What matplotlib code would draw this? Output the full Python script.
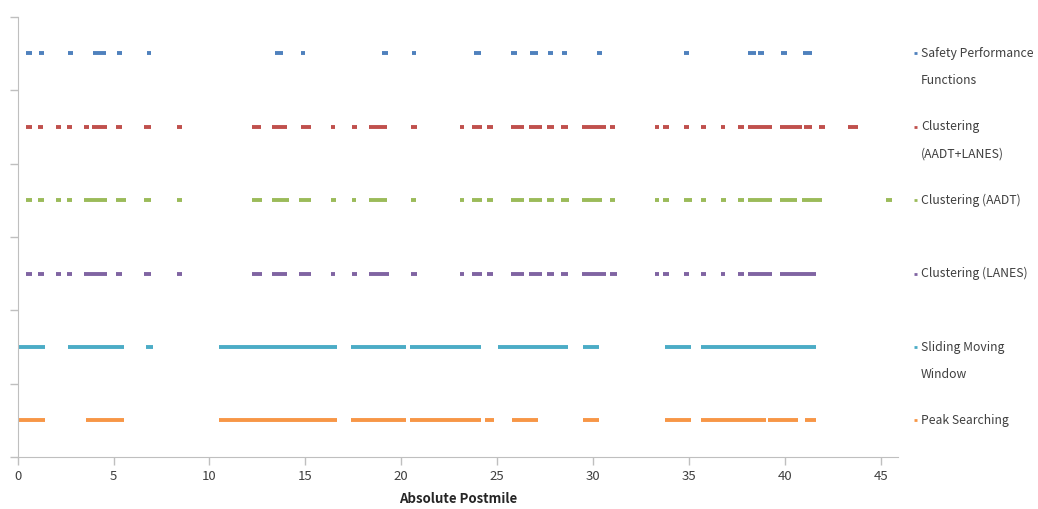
import matplotlib.pyplot as plt
from matplotlib.transforms import blended_transform_factory

plt.rcParams['font.family'] = ['Noto Sans CJK KR', 'DejaVu Sans']

# segments (start, end) in absolute postmile, top row first
spf = [(0.42, 0.73), (1.10, 1.36), (2.61, 2.87), (3.91, 4.59), (5.17, 5.43),
       (6.73, 6.94), (13.41, 13.83), (14.77, 14.98), (19.0, 19.3), (20.56, 20.77),
       (23.8, 24.17), (25.73, 26.04), (26.72, 27.14), (27.66, 27.92), (28.39, 28.65),
       (30.22, 30.48), (34.76, 35.02), (38.1, 38.5), (38.6, 38.9), (39.8, 40.1),
       (40.97, 41.4)]
clus_al = [(0.42, 0.73), (1.04, 1.3), (1.98, 2.24), (2.56, 2.82), (3.44, 3.7),
           (3.86, 4.65), (5.11, 5.43), (6.58, 6.94), (8.3, 8.56), (12.21, 12.68),
           (13.26, 14.04), (14.77, 15.29), (16.34, 16.54), (17.43, 17.69), (18.32, 19.26),
           (20.51, 20.82), (23.07, 23.28), (23.7, 24.22), (24.48, 24.79), (25.73, 26.41),
           (26.67, 27.35), (27.61, 27.97), (28.34, 28.71), (29.44, 30.69), (30.9, 31.16),
           (33.25, 33.46), (33.66, 33.98), (34.76, 35.02), (35.65, 35.91), (36.69, 36.9),
           (37.58, 37.89), (38.1, 39.35), (39.77, 40.92), (41.02, 41.44), (41.8, 42.1),
           (43.3, 43.8)]
clus_a = [(0.42, 0.73), (1.04, 1.36), (1.98, 2.24), (2.56, 2.82), (3.44, 4.65),
          (5.11, 5.64), (6.58, 6.94), (8.3, 8.56), (12.21, 12.73), (13.26, 14.14),
          (14.67, 15.29), (16.34, 16.6), (17.43, 17.64), (18.32, 19.26), (20.51, 20.77),
          (23.07, 23.28), (23.7, 24.22), (24.48, 24.79), (25.73, 26.41), (26.67, 27.35),
          (27.61, 27.97), (28.34, 28.76), (29.44, 30.48), (30.9, 31.16), (33.25, 33.46),
          (33.66, 33.98), (34.76, 35.18), (35.65, 35.91), (36.69, 36.95), (37.58, 37.89),
          (38.1, 39.35), (39.77, 40.66), (40.92, 41.96), (45.3, 45.6)]
clus_l = [(0.42, 0.73), (1.04, 1.36), (1.98, 2.24), (2.56, 2.82), (3.44, 4.65),
          (5.11, 5.43), (6.58, 6.94), (8.3, 8.56), (12.21, 12.73), (13.26, 14.04),
          (14.67, 15.29), (16.34, 16.54), (17.43, 17.69), (18.32, 19.36), (20.51, 20.82),
          (23.07, 23.28), (23.7, 24.22), (24.48, 24.79), (25.73, 26.41), (26.67, 27.35),
          (27.61, 27.97), (28.34, 28.71), (29.44, 30.69), (30.9, 31.26), (33.25, 33.46),
          (33.66, 33.98), (34.76, 35.02), (35.65, 35.91), (36.69, 36.9), (37.58, 37.89),
          (38.1, 39.35), (39.77, 41.65)]
smw = [(0.0, 1.41), (2.61, 5.53), (6.68, 7.05), (10.49, 16.65), (17.38, 20.25),
       (20.46, 24.16), (25.05, 28.71), (29.49, 30.32), (33.77, 35.12), (35.65, 41.65)]
peak = [(0.0, 1.41), (3.55, 5.53), (10.49, 16.65), (17.38, 20.25), (20.46, 24.16),
        (24.37, 24.84), (25.78, 27.14), (29.49, 30.32), (33.77, 35.12), (35.65, 39.04),
        (39.14, 40.71), (41.08, 41.65)]

series = [spf, clus_al, clus_a, clus_l, smw, peak]
names = [["Safety Performance", "Functions"],
         ["Clustering", "(AADT+LANES)"],
         ["Clustering (AADT)"],
         ["Clustering (LANES)"],
         ["Sliding Moving", "Window"],
         ["Peak Searching"]]
colors = ["#4F81BD", "#C0504D", "#9BBB59", "#8064A2", "#4BACC6", "#F79646"]

fig = plt.figure(figsize=(10.38, 5.09), dpi=100)
ax = fig.add_axes([0.017, 0.102, 0.848, 0.865])

trans = blended_transform_factory(ax.transAxes, ax.transData)
for i, segs in enumerate(series):
    y = 5.5 - i
    for s, e in segs:
        ax.plot([s, e], [y, y], color=colors[i], lw=2.8, solid_capstyle='butt')
    # legend entry next to the row
    ax.plot([1.018, 1.022], [y, y], color=colors[i], lw=2, transform=trans,
            clip_on=False, solid_capstyle='butt')
    for j, line in enumerate(names[i]):
        ax.annotate(line, xy=(1.026, y), xycoords=trans,
                    xytext=(0, -19.5 * j), textcoords='offset points',
                    va='center', ha='left', fontsize=8.8, color='#404040')

ax.set_xlim(0, 45.9)
ax.set_ylim(0, 6)
ax.set_xticks(range(0, 46, 5))
ax.set_yticks(range(0, 7))
ax.set_yticklabels([])
ax.tick_params(axis='both', colors='#BFBFBF', length=6, width=1, labelcolor='#404040',
               labelsize=9.5)
for side in ['top', 'right']:
    ax.spines[side].set_visible(False)
for side in ['left', 'bottom']:
    ax.spines[side].set_color('#BFBFBF')
ax.set_xlabel("Absolute Postmile", fontsize=9.5, fontweight='bold', color='#262626',
              labelpad=6)

fig.savefig("out.png", dpi=100)
